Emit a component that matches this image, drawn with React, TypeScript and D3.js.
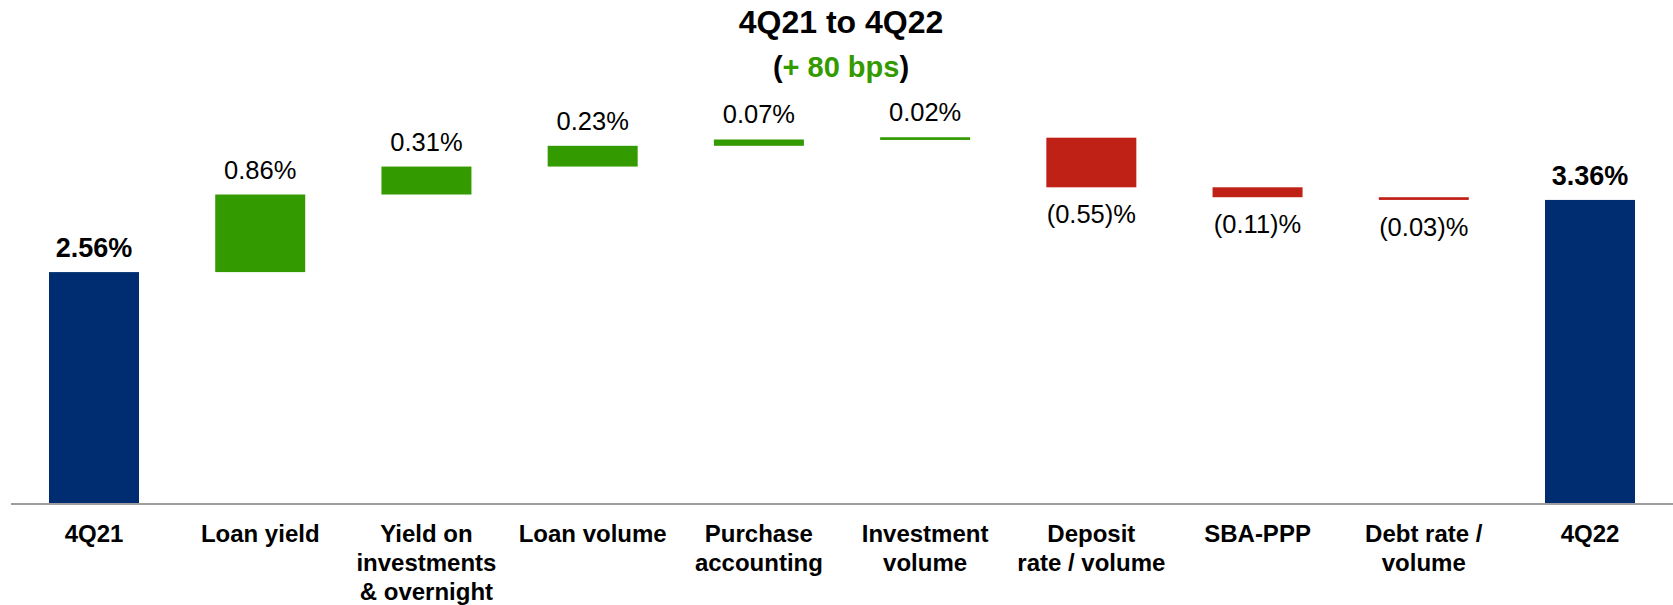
import React from "react";
import * as d3 from "d3";

const categories: string[][] = [
  ["4Q21"],
  ["Loan yield"],
  ["Yield on", "investments", "& overnight"],
  ["Loan volume"],
  ["Purchase", "accounting"],
  ["Investment", "volume"],
  ["Deposit", "rate / volume"],
  ["SBA-PPP"],
  ["Debt rate /", "volume"],
  ["4Q22"],
];
const startValue = 2.56;
const deltas = [0.86, 0.31, 0.23, 0.07, 0.02, -0.55, -0.11, -0.03];
const endValue = 3.36;
const title = "4Q21 to 4Q22";
const subtitleChange = "+ 80 bps";

const W = 1673;
const H = 605;
const BASE = 503;
const BAR_W = 90;
const NAVY = "#002D72";
const GREEN = "#339A00";
const RED = "#BF2117";
const FONT = "'Liberation Sans', Arial, Helvetica, sans-serif";

type Bar = { y0: number; y1: number; kind: "total" | "up" | "down"; label: string };

function buildBars(): Bar[] {
  const bars: Bar[] = [];
  bars.push({ y0: 0, y1: startValue, kind: "total", label: startValue.toFixed(2) + "%" });
  let cur = startValue;
  for (const d of deltas) {
    const next = cur + d;
    bars.push({
      y0: cur,
      y1: next,
      kind: d >= 0 ? "up" : "down",
      label: d >= 0 ? d.toFixed(2) + "%" : "(" + Math.abs(d).toFixed(2) + ")%",
    });
    cur = next;
  }
  bars.push({ y0: 0, y1: endValue, kind: "total", label: endValue.toFixed(2) + "%" });
  return bars;
}

export default function App() {
  const bars = buildBars();
  const x = d3
    .scalePoint<number>()
    .domain(d3.range(categories.length))
    .range([94, 1590]);
  const y = d3.scaleLinear().domain([0, 1]).range([BASE, BASE - 90.2]);

  return (
    <svg
      width={W}
      height={H}
      style={{ position: "absolute", left: 0, top: 0, background: "#fff" }}
      fontFamily={FONT}
    >
      <text x={841} y={33} textAnchor="middle" fontWeight="bold" fontSize={32} fill="#000">
        {title}
      </text>
      <text x={841} y={77} textAnchor="middle" fontWeight="bold" fontSize={29} fill="#000">
        (<tspan fill={GREEN}>{subtitleChange}</tspan>)
      </text>

      {bars.map((b, i) => {
        const cx = x(i) as number;
        const top = Math.min(y(b.y0), y(b.y1));
        const bottom = Math.max(y(b.y0), y(b.y1));
        let h = bottom - top;
        let t = top;
        if (h < 2.7) {
          t = top - (2.7 - h) / 2;
          h = 2.7;
        }
        const fill = b.kind === "total" ? NAVY : b.kind === "up" ? GREEN : RED;
        return (
          <g key={i}>
            <rect x={cx - BAR_W / 2} y={t} width={BAR_W} height={h} fill={fill} />
            {b.kind === "total" ? (
              <text x={cx} y={t - 15} textAnchor="middle" fontWeight="bold" fontSize={27} fill="#000">
                {b.label}
              </text>
            ) : b.kind === "up" ? (
              <text x={cx} y={t - 16} textAnchor="middle" fontSize={25.5} fill="#000">
                {b.label}
              </text>
            ) : (
              <text x={cx} y={t + h + 36} textAnchor="middle" fontSize={25.5} fill="#000">
                {b.label}
              </text>
            )}
          </g>
        );
      })}

      <line x1={11} x2={W} y1={BASE + 1} y2={BASE + 1} stroke="#9e9e9e" strokeWidth={2} />

      {categories.map((lines, i) => (
        <text
          key={i}
          x={x(i) as number}
          y={542}
          textAnchor="middle"
          fontWeight="bold"
          fontSize={24}
          fill="#000"
        >
          {lines.map((l, j) => (
            <tspan key={j} x={x(i) as number} dy={j === 0 ? 0 : 29}>
              {l}
            </tspan>
          ))}
        </text>
      ))}
    </svg>
  );
}
